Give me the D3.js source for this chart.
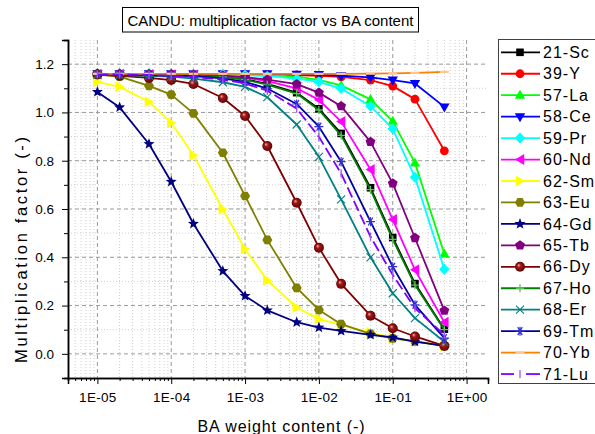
<!DOCTYPE html>
<html>
<head>
<meta charset="utf-8">
<script src="https://cdn.jsdelivr.net/npm/d3@7"></script>
<style>
  body { margin: 0; background: #fff; }
  svg { display: block; font-family: "Liberation Sans", Arial, sans-serif; }
</style>
</head>
<body>
<svg id="chart" width="595" height="434"></svg>
<script>
// BA weight content sampled for each burnable absorber
const baContent = [1e-5, 2e-5, 5e-5, 1e-4, 2e-4, 5e-4, 1e-3, 2e-3, 5e-3, 1e-2, 2e-2, 5e-2, 1e-1, 2e-1, 5e-1];

const elementNames = ["21-Sc", "39-Y", "57-La", "58-Ce", "59-Pr", "60-Nd", "62-Sm", "63-Eu",
                      "64-Gd", "65-Tb", "66-Dy", "67-Ho", "68-Er", "69-Tm", "70-Yb", "71-Lu"];

// multiplication factor per element
const kSc = [1.158, 1.158, 1.157, 1.156, 1.154, 1.148, 1.138, 1.118, 1.082, 1.015, 0.913, 0.688, 0.482, 0.291, 0.102];
const kY  = [1.158, 1.158, 1.158, 1.158, 1.158, 1.158, 1.158, 1.157, 1.155, 1.152, 1.147, 1.134, 1.109, 1.055, 0.841];
const kLa = [1.160, 1.160, 1.160, 1.160, 1.160, 1.159, 1.158, 1.155, 1.148, 1.135, 1.112, 1.054, 0.963, 0.791, 0.414];
const kCe = [1.160, 1.160, 1.160, 1.160, 1.160, 1.160, 1.160, 1.160, 1.158, 1.157, 1.152, 1.145, 1.134, 1.120, 1.023];
const kPr = [1.160, 1.160, 1.160, 1.160, 1.159, 1.158, 1.155, 1.150, 1.140, 1.127, 1.099, 1.026, 0.932, 0.731, 0.350];
const kNd = [1.158, 1.158, 1.157, 1.156, 1.155, 1.150, 1.143, 1.130, 1.100, 1.052, 0.962, 0.764, 0.556, 0.348, 0.131];
const kSm = [1.127, 1.106, 1.044, 0.957, 0.823, 0.599, 0.434, 0.305, 0.192, 0.144, 0.120, 0.088, 0.066, 0.052, 0.033];
const kEu = [1.157, 1.148, 1.110, 1.074, 0.996, 0.833, 0.654, 0.472, 0.273, 0.182, 0.123, 0.083, 0.064, 0.052, 0.033];
const kGd = [1.085, 1.021, 0.869, 0.713, 0.539, 0.343, 0.240, 0.180, 0.131, 0.109, 0.095, 0.079, 0.068, 0.051, 0.033];
const kTb = [1.160, 1.160, 1.159, 1.158, 1.156, 1.152, 1.146, 1.136, 1.117, 1.082, 1.026, 0.878, 0.706, 0.480, 0.179];
const kDy = [1.157, 1.152, 1.143, 1.134, 1.118, 1.060, 0.985, 0.861, 0.626, 0.440, 0.290, 0.158, 0.106, 0.072, 0.033];
const kHo = [1.158, 1.158, 1.157, 1.156, 1.153, 1.147, 1.136, 1.115, 1.078, 1.010, 0.905, 0.680, 0.474, 0.285, 0.100];
const kEr = [1.157, 1.155, 1.152, 1.148, 1.140, 1.125, 1.106, 1.063, 0.950, 0.816, 0.640, 0.400, 0.251, 0.148, 0.050];
const kTm = [1.158, 1.157, 1.155, 1.153, 1.150, 1.141, 1.127, 1.099, 1.035, 0.941, 0.796, 0.548, 0.361, 0.203, 0.065];
const kYb = [1.160, 1.160, 1.160, 1.160, 1.160, 1.160, 1.160, 1.160, 1.160, 1.160, 1.160, 1.161, 1.162, 1.164, 1.168];
const kLu = [1.158, 1.157, 1.155, 1.152, 1.147, 1.136, 1.120, 1.090, 1.016, 0.899, 0.747, 0.485, 0.327, 0.189, 0.079];

const yMajorTicks = [0.0, 0.2, 0.4, 0.6, 0.8, 1.0, 1.2];
const xMajorTicks = [1e-5, 1e-4, 1e-3, 1e-2, 1e-1, 1e0];
const xTickLabels = ["1E-05", "1E-04", "1E-03", "1E-02", "1E-01", "1E+00"];

const kValues = [kSc, kY, kLa, kCe, kPr, kNd, kSm, kEu, kGd, kTb, kDy, kHo, kEr, kTm, kYb, kLu];
const looks = [
  { color: "#000000", marker: "square" },
  { color: "#ff0000", marker: "circle" },
  { color: "#00ff00", marker: "up" },
  { color: "#0000ff", marker: "down" },
  { color: "#00ffff", marker: "diamond" },
  { color: "#ff00ff", marker: "left" },
  { color: "#ffff00", marker: "right" },
  { color: "#808000", marker: "hexagon" },
  { color: "#000080", marker: "star" },
  { color: "#800080", marker: "pentagon" },
  { color: "#800000", marker: "sphere" },
  { color: "#008000", marker: "plus", mark: "#5cc05c" },
  { color: "#008080", marker: "cross" },
  { color: "#0000a0", marker: "asterisk", mark: "#3030d0" },
  { color: "#ff8000", marker: "dash", mark: "#ffc890" },
  { color: "#8000ff", marker: "bar", mark: "#a050ff", dash: "11,4" }
];
const series = elementNames.map((name, i) => ({
  name, ...looks[i],
  points: baContent.map((c, j) => [c, kValues[i][j]])
}));

const svg = d3.select("#chart");
const defs = svg.append("defs");
const grad = defs.append("radialGradient").attr("id", "sphereDy")
  .attr("cx", "50%").attr("cy", "50%").attr("r", "55%").attr("fx", "35%").attr("fy", "32%");
grad.append("stop").attr("offset", "0%").attr("stop-color", "#f3b0b0");
grad.append("stop").attr("offset", "35%").attr("stop-color", "#a01818");
grad.append("stop").attr("offset", "100%").attr("stop-color", "#5a0000");

const plotLeft = 68, plotRight = 488, plotTop = 40, plotBottom = 378;
const x = d3.scaleLog().domain([4e-6, 1.95]).range([plotLeft, plotRight]);
const y = d3.scaleLinear().domain([-0.1, 1.3]).range([plotBottom, plotTop]);

// grid: dotted minor lines, dashed major lines
const grid = svg.append("g");
const xMinor = [];
for (let e = -6; e <= 0; e++) for (let m = 2; m <= 9; m++) {
  const v = m * Math.pow(10, e);
  if (v > 4e-6 && v < 1.9) xMinor.push(v);
}
const yMinor = d3.range(1, 12, 2).map(k => k / 10);
grid.selectAll(".vmin").data(xMinor).join("line")
  .attr("x1", d => x(d)).attr("x2", d => x(d)).attr("y1", plotTop).attr("y2", plotBottom)
  .attr("stroke", "#cfcfcf").attr("stroke-width", 1).attr("stroke-dasharray", "1,2");
grid.selectAll(".hmin").data(yMinor).join("line")
  .attr("x1", plotLeft).attr("x2", plotRight).attr("y1", d => y(d)).attr("y2", d => y(d))
  .attr("stroke", "#cfcfcf").attr("stroke-width", 1).attr("stroke-dasharray", "1,2");
grid.selectAll(".vmaj").data(xMajorTicks).join("line")
  .attr("x1", d => x(d)).attr("x2", d => x(d)).attr("y1", plotTop).attr("y2", plotBottom)
  .attr("stroke", "#9a9a9a").attr("stroke-width", 1).attr("stroke-dasharray", "4,3");
grid.selectAll(".hmaj").data(yMajorTicks).join("line")
  .attr("x1", plotLeft).attr("x2", plotRight).attr("y1", d => y(d)).attr("y2", d => y(d))
  .attr("stroke", "#9a9a9a").attr("stroke-width", 1).attr("stroke-dasharray", "4,3");

// axes
const xAxis = svg.append("g").attr("transform", `translate(0,${plotBottom})`);
xAxis.call(d3.axisBottom(x).tickValues(xMinor).tickSize(3).tickFormat(""));
xAxis.append("g").call(d3.axisBottom(x).tickValues(xMajorTicks).tickSize(6).tickPadding(8)
  .tickFormat((d, i) => xTickLabels[i]));
xAxis.selectAll(".domain").attr("stroke", "#000").attr("stroke-width", 1.5);
xAxis.selectAll("text").attr("font-size", 13.5).attr("fill", "#000")
  .attr("font-family", "'Liberation Sans', Arial, sans-serif").attr("letter-spacing", 0.3);

const yAxis = svg.append("g").attr("transform", `translate(${plotLeft},0)`);
yAxis.call(d3.axisLeft(y).tickValues(d3.range(-1, 14, 2).map(k => k / 10)).tickSize(4).tickFormat(""));
yAxis.append("g").call(d3.axisLeft(y).tickValues(yMajorTicks).tickSize(6).tickPadding(8)
  .tickFormat(d3.format(".1f")));
yAxis.selectAll(".domain").attr("stroke", "#000").attr("stroke-width", 1.5);
yAxis.selectAll("text").attr("font-size", 13.5).attr("fill", "#000")
  .attr("font-family", "'Liberation Sans', Arial, sans-serif");
svg.selectAll(".tick line").attr("stroke", "#000").attr("stroke-width", 1);

// marker glyphs
function polygon(n, r, rot) {
  return d3.range(n).map(k => {
    const a = rot + k * 2 * Math.PI / n;
    return [r * Math.sin(a), -r * Math.cos(a)];
  });
}
function starPath(ro, ri) {
  const pts = d3.range(10).map(k => {
    const a = k * Math.PI / 5, r = k % 2 ? ri : ro;
    return [r * Math.sin(a), -r * Math.cos(a)];
  });
  return "M" + pts.join("L") + "Z";
}
function drawMarker(g, s) {
  const c = s.color, mc = s.mark || s.color;
  switch (s.marker) {
    case "square": g.append("rect").attr("x", -3.8).attr("y", -3.8).attr("width", 7.6).attr("height", 7.6).attr("fill", c); break;
    case "circle": g.append("circle").attr("r", 4.4).attr("fill", c); break;
    case "up": g.append("path").attr("d", "M0,-5.5L5.2,3.5L-5.2,3.5Z").attr("fill", c); break;
    case "down": g.append("path").attr("d", "M0,5.5L5.2,-3.5L-5.2,-3.5Z").attr("fill", c); break;
    case "left": g.append("path").attr("d", "M-5,0L4.2,-5.5L4.2,5.5Z").attr("fill", c); break;
    case "right": g.append("path").attr("d", "M5,0L-4.2,-5.5L-4.2,5.5Z").attr("fill", c); break;
    case "diamond": g.append("path").attr("d", "M0,-5.5L5.3,0L0,5.5L-5.3,0Z").attr("fill", c); break;
    case "hexagon": g.append("path").attr("d", "M" + polygon(6, 5, Math.PI / 6).join("L") + "Z").attr("fill", c); break;
    case "pentagon": g.append("path").attr("d", "M" + polygon(5, 5.2, 0).join("L") + "Z").attr("fill", c); break;
    case "star": g.append("path").attr("d", starPath(5.8, 2.5)).attr("fill", c); break;
    case "sphere": g.append("circle").attr("r", 5).attr("fill", "url(#sphereDy)"); break;
    case "plus": g.append("path").attr("d", "M-4,0H4M0,-4V4").attr("stroke", mc).attr("stroke-width", 1.3).attr("fill", "none"); break;
    case "cross": g.append("path").attr("d", "M-4,-4L4,4M-4,4L4,-4").attr("stroke", mc).attr("stroke-width", 1.1).attr("fill", "none"); break;
    case "asterisk": g.append("path").attr("d", "M-4.5,0H4.5M-2.3,-4L2.3,4M-2.3,4L2.3,-4M0,-4.5V4.5").attr("stroke", mc).attr("stroke-width", 1.2).attr("fill", "none"); break;
    case "dash": g.append("path").attr("d", "M-4.5,0H4.5").attr("stroke", mc).attr("stroke-width", 2.2); break;
    case "bar": g.append("path").attr("d", "M0,-4V4").attr("stroke", mc).attr("stroke-width", 1.3); break;
  }
}

// series: line then markers, in legend order
const line = d3.line().x(d => x(d[0])).y(d => y(d[1]));
const plot = svg.append("g");
series.forEach(s => {
  const g = plot.append("g");
  g.append("path").attr("d", line(s.points)).attr("fill", "none")
    .attr("stroke", s.color).attr("stroke-width", 1.8)
    .attr("stroke-dasharray", s.dash || null).attr("stroke-linejoin", "round");
  g.selectAll(".m").data(s.points).join("g")
    .attr("transform", d => `translate(${x(d[0])},${y(d[1])})`)
    .each(function () { drawMarker(d3.select(this), s); });
});

// legend
const lg = svg.append("g");
lg.append("rect").attr("x", 498.5).attr("y", 39.5).attr("width", 120).attr("height", 344)
  .attr("fill", "#fff").attr("stroke", "#404040").attr("stroke-width", 1);
series.forEach((s, i) => {
  const ry = 52.3 + i * 21.45;
  const row = lg.append("g").attr("transform", `translate(0,${ry})`);
  if (s.marker === "bar" || s.marker === "dash") {
    const gap = s.marker === "bar" ? 6 : 0;
    row.append("line").attr("x1", 501).attr("x2", 520 - gap).attr("y1", 0).attr("y2", 0)
      .attr("stroke", s.color).attr("stroke-width", 1.8);
    row.append("line").attr("x1", 520 + gap).attr("x2", 540).attr("y1", 0).attr("y2", 0)
      .attr("stroke", s.color).attr("stroke-width", 1.8);
  } else {
    row.append("line").attr("x1", 501).attr("x2", 540).attr("y1", 0).attr("y2", 0)
      .attr("stroke", s.color).attr("stroke-width", 1.8);
  }
  const mg = row.append("g").attr("transform", "translate(520,0)");
  drawMarker(mg, s);
  row.append("text").attr("x", 543).attr("y", 0).attr("dy", "0.35em")
    .attr("font-size", 16).attr("letter-spacing", 1).attr("fill", "#000").text(s.name);
});

// title
const title = svg.append("g");
title.append("rect").attr("x", 122.5).attr("y", 7.5).attr("width", 296).attr("height", 24.5)
  .attr("fill", "#fff").attr("stroke", "#000").attr("stroke-width", 1);
title.append("text").attr("x", 270.5).attr("y", 25.5).attr("text-anchor", "middle")
  .attr("font-size", 15).attr("fill", "#000").text("CANDU: multiplication factor vs BA content");

// axis titles
svg.append("text").attr("x", 281).attr("y", 432).attr("text-anchor", "middle")
  .attr("font-size", 16).attr("textLength", 167).attr("lengthAdjust", "spacing")
  .attr("fill", "#000").text("BA weight content (-)");
svg.append("text").attr("transform", "translate(27,250) rotate(-90)").attr("text-anchor", "middle")
  .attr("font-size", 16.5).attr("textLength", 226).attr("lengthAdjust", "spacing")
  .attr("fill", "#000").text("Multiplication factor (-)");
</script>
</body>
</html>
